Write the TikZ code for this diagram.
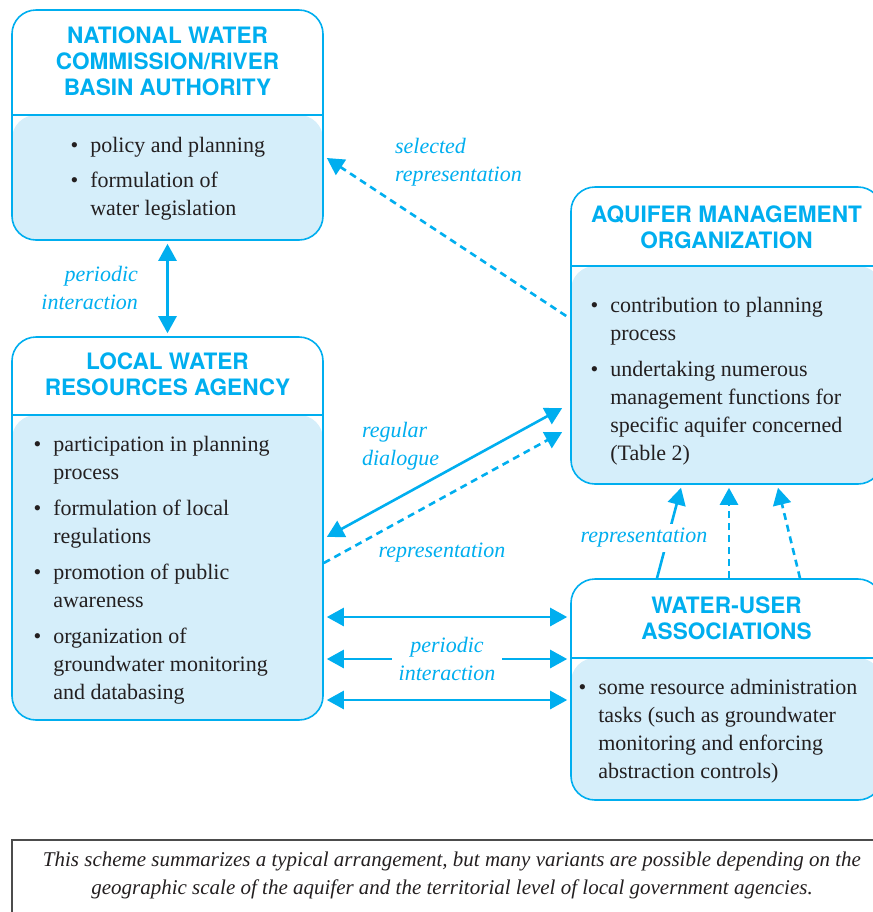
\documentclass[tikz,border=0pt]{standalone}
\usepackage{fontspec}
\setmainfont{Liberation Serif}
\newfontfamily\headfont{TeX Gyre Heros}
\usetikzlibrary{arrows.meta,calc}

\definecolor{wcyan}{RGB}{0,174,239}
\definecolor{wlight}{RGB}{213,238,250}
\definecolor{wtext}{RGB}{35,31,32}

\begin{document}
\begin{tikzpicture}[x=0.5pt,y=-0.5pt,>={Triangle[length=8.5pt,width=9pt]},
	box/.style={draw=wcyan,line width=0.8pt,rounded corners=12pt,minimum width=155.5pt,inner sep=0pt,
		path picture={
			\fill[wlight] ([yshift=-#1]path picture bounding box.north west) rectangle (path picture bounding box.south east);
			\draw[wcyan,line width=0.8pt] ([yshift=-#1]path picture bounding box.north west) -- ([yshift=-#1]path picture bounding box.north east);}},
	head/.style={align=center,text=wcyan,font=\headfont\bfseries\fontsize{11.3}{13}\selectfont},
	body/.style={anchor=base west,inner sep=0pt,text=wtext,font=\fontsize{11}{14}\selectfont},
	lbl/.style={text=wcyan,font=\itshape\fontsize{11}{14}\selectfont},
	link/.style={wcyan,line width=1.3pt},
	dashline/.style={link,dash pattern=on 3.5pt off 2.5pt}]
	\useasboundingbox (0,0) rectangle (873,912);
	
	% the four bodies
	\node[box=52.5pt,minimum height=115pt] (nwc) at (167.5,125) {};
	\node[box=39pt,minimum height=191.5pt] (lwra) at (167.5,528.5) {};
	\node[box=39.5pt,minimum height=148.5pt] (amo) at (726.5,335.5) {};
	\node[box=39.5pt,minimum height=110.5pt] (wua) at (726.5,689.5) {};
	
	\node[head] (nwc-head) at ($(nwc.north)+(0,52.5)$) {NATIONAL WATER\\COMMISSION/RIVER\\BASIN AUTHORITY};
	\node[head] (lwra-head) at ($(lwra.north)+(0,38)$) {LOCAL WATER\\RESOURCES AGENCY};
	\node[head] (amo-head) at ($(amo.north)+(0,41)$) {AQUIFER MANAGEMENT\\ORGANIZATION};
	\node[head] (wua-head) at ($(wua.north)+(0,40)$) {WATER-USER\\ASSOCIATIONS};
	
	\node[body] (nwc-body) at ($(nwc.north west)+(59,143)$) {\begin{tabular}[t]{@{}l@{\hspace{6pt}}l@{}}
			\textbullet & policy and planning\\[3.5pt]
			\textbullet & formulation of\\
			& water legislation
		\end{tabular}};
	\node[body] (lwra-body) at ($(lwra.north west)+(22,115)$) {\begin{tabular}[t]{@{}l@{\hspace{6pt}}l@{}}
			\textbullet & participation in planning\\
			& process\\[4pt]
			\textbullet & formulation of local\\
			& regulations\\[4pt]
			\textbullet & promotion of public\\
			& awareness\\[4pt]
			\textbullet & organization of\\
			& groundwater monitoring\\
			& and databasing
		\end{tabular}};
	\node[body] (amo-body) at ($(amo.north west)+(20,126)$) {\begin{tabular}[t]{@{}l@{\hspace{6pt}}l@{}}
			\textbullet & contribution to planning\\
			& process\\[4pt]
			\textbullet & undertaking numerous\\
			& management functions for\\
			& specific aquifer concerned\\
			& (Table 2)
		\end{tabular}};
	\node[body] (wua-body) at ($(wua.north west)+(8,116)$) {\begin{tabular}[t]{@{}l@{\hspace{6pt}}l@{}}
			\textbullet & some resource administration\\
			& tasks (such as groundwater\\
			& monitoring and enforcing\\
			& abstraction controls)
		\end{tabular}};
	
	% links
	\draw[link,<->,shorten <=1.5pt,shorten >=1.5pt] (nwc.south) -- (lwra.north);
	\draw[dashline,->] ($(amo.west)+(-4,-19.5)$) -- ($(nwc.east)+(3,33)$);
	\draw[link,<->] ($(amo.west)+(-8,72.5)$) -- ($(lwra.east)+(3,8.5)$);
	\draw[dashline,->] ($(lwra.east)+(0,34.5)$) -- ($(amo.west)+(-8,96.5)$);
	\draw[link,->] ($(wua.north)+(-69.5,0)$) -- ($(amo.south)+(-45.5,3)$);
	\draw[dashline,->] ($(wua.north)+(2.5,0)$) -- ($(amo.south)+(2.5,3)$);
	\draw[dashline,->] ($(wua.north)+(73.5,0)$) -- ($(amo.south)+(51.5,3)$);
	\draw[link,<->] ($(lwra.east)+(3,88.5)$) -- ($(wua.west)+(-3,-72.5)$);
	\draw[link,<->] ($(lwra.east)+(3,130.5)$) -- ($(wua.west)+(-3,-30.5)$);
	\draw[link,<->] ($(lwra.east)+(3,171.5)$) -- ($(wua.west)+(-3,10.5)$);
	
	\node[lbl,align=right,anchor=east] (per1) at (145,287.5) {periodic\\interaction};
	\node[lbl,align=left,anchor=west] (selrep) at (388,162) {selected\\representation};
	\node[lbl,align=left,anchor=west] (regdia) at (355,446.5) {regular\\dialogue};
	\node[lbl] (rep1) at (442,553) {representation};
	\node[lbl,fill=white,inner sep=2pt] (rep2) at (644,538) {representation};
	\node[lbl,align=center,fill=white] (per2) at (447,658.5) {periodic\\interaction};
	
	% note at the foot
	\draw[black!70,line width=0.6pt] (12,930) -- (12,840) -- (890,840);
	\node[font=\itshape\fontsize{10.5}{14}\selectfont,align=center,text=wtext] (note) at (452,875) {This scheme summarizes a typical arrangement, but many variants are possible depending on the\\geographic scale of the aquifer and the territorial level of local government agencies.};
\end{tikzpicture}
\end{document}
